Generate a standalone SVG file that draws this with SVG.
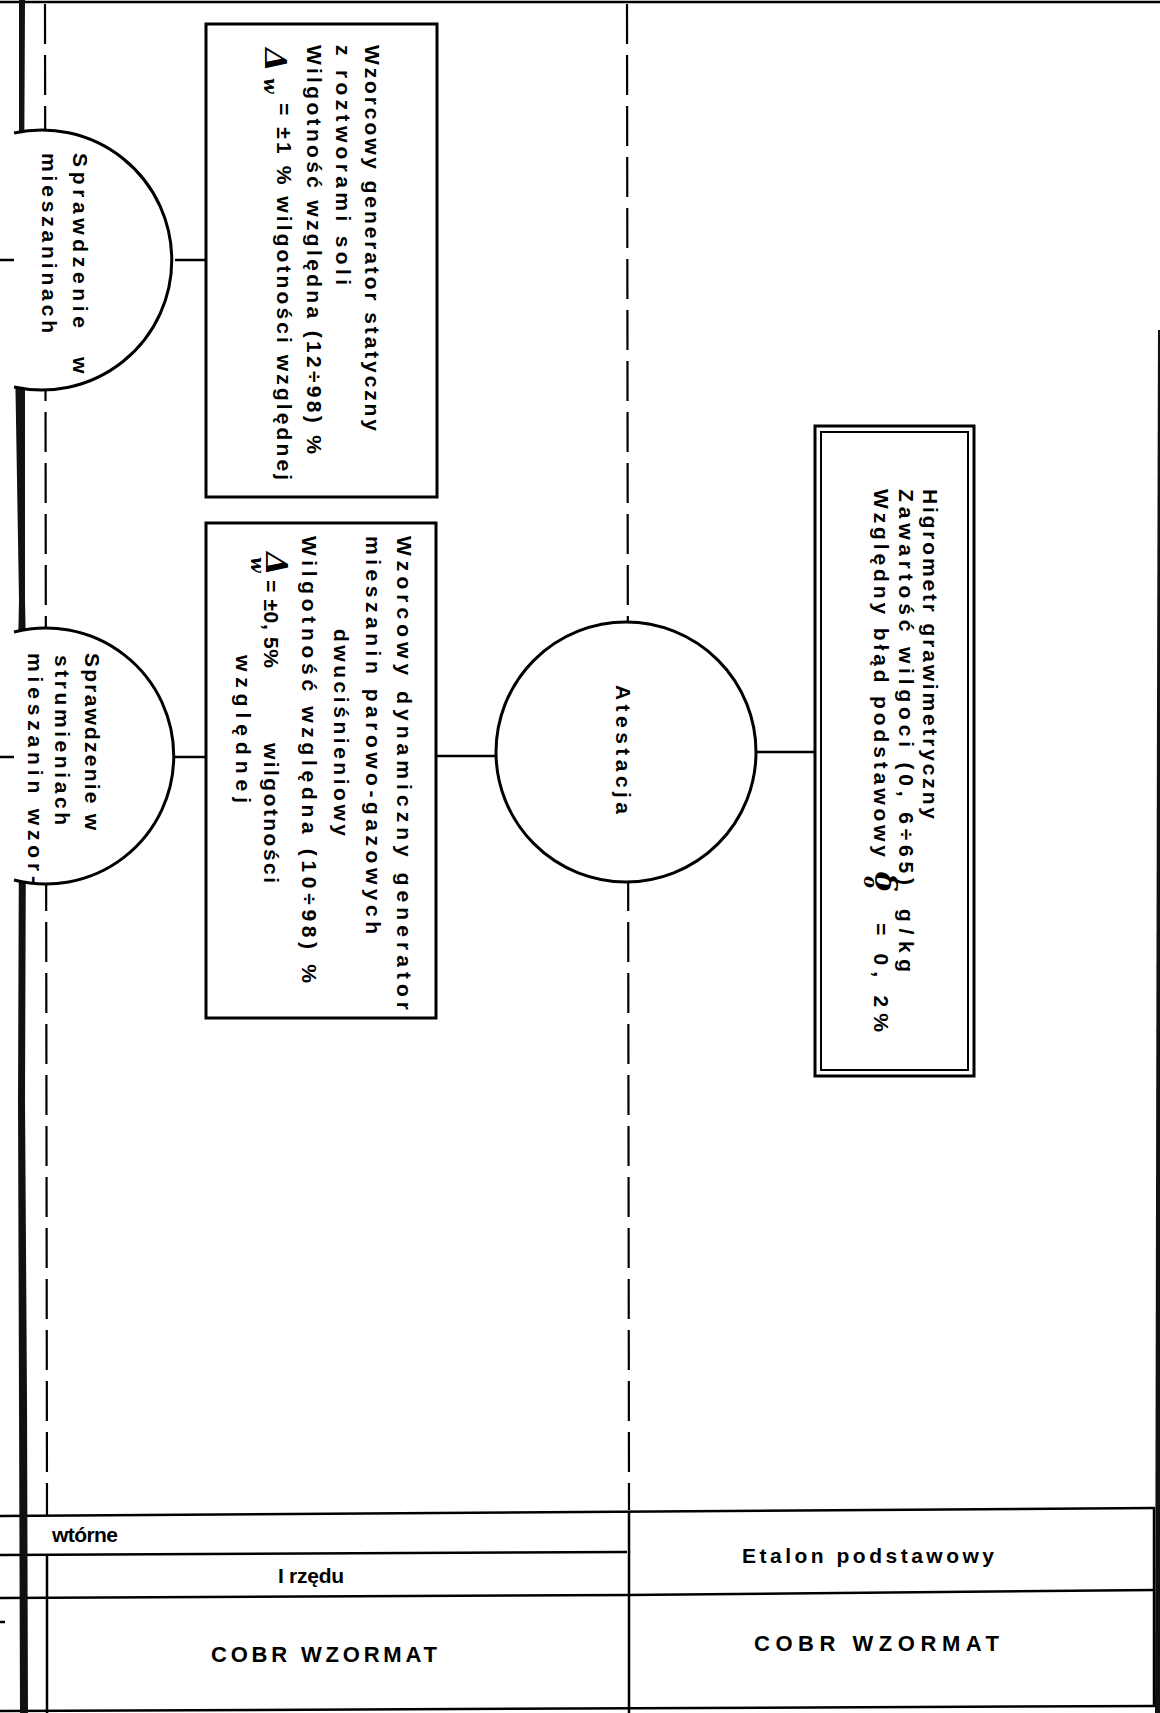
<svg xmlns="http://www.w3.org/2000/svg" width="1160" height="1713" viewBox="0 0 1160 1713">
<style>
  .box{fill:#fff;stroke:#000;stroke-width:3}
  .box2{fill:none;stroke:#000;stroke-width:2}
  .circ{fill:#fff;stroke:#000;stroke-width:3}
  .link{stroke:#000;stroke-width:2.5;fill:none}
  .dash{stroke:#000;stroke-width:2.2;stroke-dasharray:40 11;fill:none}
  .rule{stroke:#000;stroke-width:2.5;fill:none}
  .edge{fill:#111;stroke:none}
  text{font-family:"Liberation Sans",Arial,sans-serif;font-size:21px;font-weight:bold;fill:#000;letter-spacing:0}
  .sym{font-family:"DejaVu Serif",serif;font-style:italic;font-weight:bold;font-size:30px}
  .sub{font-family:"DejaVu Serif",serif;font-style:italic;font-weight:bold;font-size:18px}
  .tab{font-size:21px}
  .big{font-size:22px}
</style>

<!-- page frame and bottom table -->
<g id="frame">
  <line class="rule" x1="0" y1="2" x2="1160" y2="2" stroke-width="3.5"/>
  <line class="rule" x1="0" y1="1516" x2="1155" y2="1508"/>
  <line class="rule" x1="0" y1="1555" x2="627" y2="1552"/>
  <line class="rule" x1="0" y1="1598" x2="627" y2="1595"/>
  <line class="rule" x1="627" y1="1595" x2="1155" y2="1590"/>
  <line class="rule" x1="0" y1="1711" x2="1155" y2="1706"/>
  <line class="rule" x1="629" y1="1511" x2="629" y2="1713"/>
  <line class="rule" x1="1154" y1="1508" x2="1154" y2="1707"/>
  <line class="rule" x1="47" y1="1555" x2="47" y2="1713"/>
  <line class="rule" x1="0" y1="1622" x2="5" y2="1622"/>
  <!-- dark paper edges -->
  <path class="edge" d="M19,0 L25,0 L24,200 L27,230 L30,290 L25,330 L25,600 L27,700 L26,820 L25,1100 L27,1400 L28,1713 L20,1713 L19,1400 L18,1100 L19,820 L17,700 L19,600 L14,300 L17,230 L19,200 Z"/>
  <path class="edge" d="M1158,330 L1160,330 L1160,1713 L1155,1713 L1156,1200 L1157,700 Z"/>
</g>

<!-- connectors -->
<g id="connectors">
  <line class="dash" x1="45" y1="4" x2="47" y2="1515"/>
  <line class="dash" x1="627" y1="4" x2="629" y2="1510"/>
  <line class="link" x1="0" y1="260" x2="22" y2="260"/>
  <line class="link" x1="175" y1="260" x2="206" y2="260"/>
  <line class="link" x1="0" y1="757" x2="22" y2="757"/>
  <line class="link" x1="175" y1="757" x2="206" y2="757"/>
  <line class="link" x1="436" y1="756" x2="497" y2="756"/>
  <line class="link" x1="756" y1="752" x2="815" y2="752"/>
</g>

<!-- check in static mixtures -->
<g id="check-static">
  <path class="circ" d="M14,133 A130,130 0 1 1 14,387"/>
  <text transform="translate(73,153) rotate(90)" textLength="175" lengthAdjust="spacing">Sprawdzenie</text>
  <text transform="translate(73,357) rotate(90)">w</text>
  <text transform="translate(42,153) rotate(90)" textLength="180" lengthAdjust="spacing">mieszaninach</text>
</g>

<!-- check in flowing mixtures -->
<g id="check-flow">
  <path class="circ" d="M14,632 A128,128 0 1 1 14,880"/>
  <text transform="translate(85,653) rotate(90)" textLength="177" lengthAdjust="spacing">Sprawdzenie w</text>
  <text transform="translate(55,655) rotate(90)" textLength="170" lengthAdjust="spacing">strumieniach</text>
  <text transform="translate(28,653) rotate(90)" textLength="230" lengthAdjust="spacing">mieszanin wzor-</text>
</g>

<!-- static salt-solution generator -->
<g id="static-generator">
  <rect class="box" x="206" y="24" width="231" height="473"/>
  <text transform="translate(365,45) rotate(90)" textLength="386" lengthAdjust="spacing">Wzorcowy generator statyczny</text>
  <text transform="translate(336,45) rotate(90)" textLength="240" lengthAdjust="spacing">z roztworami soli</text>
  <text transform="translate(307,45) rotate(90)" textLength="409" lengthAdjust="spacing">Wilgotność względna (12÷98) %</text>
  <text class="sym" transform="translate(265,48) rotate(90)">Δ</text>
  <text class="sub" transform="translate(264,78) rotate(90)">w</text>
  <text transform="translate(277,103) rotate(90)" textLength="377" lengthAdjust="spacing">= ±1 % wilgotności względnej</text>
</g>

<!-- dynamic two-pressure generator -->
<g id="dynamic-generator">
  <rect class="box" x="206" y="523" width="230" height="495"/>
  <text transform="translate(397,536) rotate(90)" textLength="474" lengthAdjust="spacing">Wzorcowy dynamiczny generator</text>
  <text transform="translate(366,536) rotate(90)" textLength="398" lengthAdjust="spacing">mieszanin parowo-gazowych</text>
  <text transform="translate(334,629) rotate(90)" textLength="207" lengthAdjust="spacing">dwuciśnieniowy</text>
  <text transform="translate(302,536) rotate(90)" textLength="447" lengthAdjust="spacing">Wilgotność względna (10÷98) %</text>
  <text class="sym" transform="translate(266,552) rotate(90)">Δ</text>
  <text class="sub" transform="translate(251,557) rotate(90)">w</text>
  <text transform="translate(264,580) rotate(90)" textLength="88" lengthAdjust="spacing">= ±0, 5%</text>
  <text transform="translate(264,743) rotate(90)" textLength="140" lengthAdjust="spacing">wilgotności</text>
  <text transform="translate(236,655) rotate(90)" textLength="148" lengthAdjust="spacing">względnej</text>
</g>

<!-- attestation -->
<g id="attestation">
  <circle class="circ" cx="626" cy="752" r="130"/>
  <text transform="translate(616,685) rotate(90)" font-size="23" textLength="129" lengthAdjust="spacing">Atestacja</text>
</g>

<!-- gravimetric hygrometer, primary standard -->
<g id="hygrometer">
  <rect class="box" x="815" y="426" width="159" height="650"/>
  <rect class="box2" x="821" y="432" width="147" height="638"/>
  <text transform="translate(923,489) rotate(90)" textLength="330" lengthAdjust="spacing">Higrometr grawimetryczny</text>
  <text transform="translate(899,489) rotate(90)" textLength="396" lengthAdjust="spacing">Zawartość wilgoci (0, 6÷65)</text>
  <text transform="translate(899,909) rotate(90)" textLength="63" lengthAdjust="spacing">g/kg</text>
  <text transform="translate(874,489) rotate(90)" textLength="368" lengthAdjust="spacing">Względny błąd podstawowy</text>
  <text class="sym" transform="translate(875,872) rotate(90)" font-size="20">δ</text>
  <text class="sub" transform="translate(864,876) rotate(90)" font-size="14">o</text>
  <text transform="translate(874,923) rotate(90)" textLength="109" lengthAdjust="spacing">= 0, 2%</text>
</g>

<!-- table labels -->
<g id="table-labels">
  <text class="tab" x="52" y="1542" textLength="66" lengthAdjust="spacing">wtórne</text>
  <text class="tab" x="278" y="1583" textLength="66" lengthAdjust="spacing">I rzędu</text>
  <text class="big" x="211" y="1662" textLength="226" lengthAdjust="spacing">COBR  WZORMAT</text>
  <text class="tab" x="742" y="1563" textLength="252" lengthAdjust="spacing">Etalon podstawowy</text>
  <text class="big" x="754" y="1651" textLength="245" lengthAdjust="spacing">COBR  WZORMAT</text>
</g>
</svg>
